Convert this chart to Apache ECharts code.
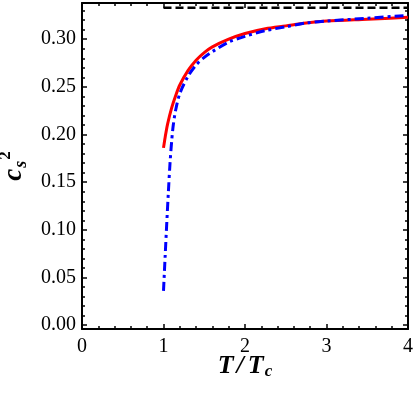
<!DOCTYPE html>
<html>
<head>
<meta charset="utf-8">
<script src="https://cdn.jsdelivr.net/npm/echarts@6/dist/echarts.min.js"></script>
<style>
  html, body { margin: 0; padding: 0; background: #fff; }
  #main { width: 415px; height: 395px; }
</style>
</head>
<body>
<div id="main"></div>
<script>
// values
var redT = [1.0, 1.02, 1.05, 1.1, 1.15, 1.2, 1.3, 1.4, 1.5, 1.6, 1.8, 2.0, 2.25, 2.5, 2.75, 3.0, 3.5, 4.0];
var redCs2 = [0.186, 0.197, 0.211, 0.228, 0.241, 0.252, 0.267, 0.278, 0.286, 0.292, 0.300, 0.306, 0.311, 0.314, 0.317, 0.319, 0.321, 0.323];
var blueT = [1.0, 1.02, 1.04, 1.06, 1.08, 1.1, 1.12, 1.15, 1.2, 1.3, 1.4, 1.5, 1.6, 1.8, 2.0, 2.25, 2.5, 2.75, 3.0, 3.5, 4.0];
var blueCs2 = [0.036, 0.072, 0.107, 0.140, 0.170, 0.193, 0.210, 0.226, 0.243, 0.261, 0.273, 0.281, 0.287, 0.297, 0.303, 0.309, 0.313, 0.317, 0.319, 0.322, 0.325];
var limitT = [1, 4];
var limitCs2 = [0.333, 0.333];

function pairs(xs, ys) {
    return xs.map(function (x, i) { return [x, ys[i]]; });
}

var serif = 'Liberation Serif';
var frameLine = { show: true, onZero: false, lineStyle: { color: '#000', width: 2 } };
var majorTick = { inside: true, length: 5, lineStyle: { color: '#000', width: 1.5 } };
var minorTick = { show: true, splitNumber: 5, length: 3, lineStyle: { color: '#000', width: 1.5 } };
var nameFont = { fontFamily: serif, fontWeight: 'bold', fontStyle: 'italic', color: '#000' };

var myChart = echarts.init(document.getElementById('main'));
var option = {
    animation: false,
    backgroundColor: '#fff',
    grid: { left: 82, right: 7, top: 3, bottom: 66, outerBoundsMode: 'none', containLabel: false },
    xAxis: [{
        type: 'value',
        min: 0, max: 4, interval: 1,
        position: 'bottom',
        axisLine: frameLine,
        axisTick: majorTick,
        minorTick: minorTick,
        splitLine: { show: false },
        axisLabel: { color: '#000', fontFamily: serif, fontSize: 20, margin: 8 },
        name: '{t|T}{sl|/}{t|T}{c|c}',
        nameLocation: 'middle',
        nameGap: 24,
        nameMoveOverlap: false,
        nameTextStyle: {
            rich: {
                t: Object.assign({ fontSize: 26 }, nameFont),
                sl: Object.assign({ fontSize: 26, padding: [0, 4, 0, 3] }, nameFont),
                c: Object.assign({ fontSize: 17, padding: [10, 0, 0, 1] }, nameFont)
            }
        }
    }, {
        type: 'value',
        min: 0, max: 4, interval: 1,
        position: 'top',
        axisLine: frameLine,
        axisTick: majorTick,
        minorTick: minorTick,
        splitLine: { show: false },
        axisLabel: { show: false }
    }],
    yAxis: [{
        type: 'value',
        min: -0.004, max: 0.338,
        splitNumber: 7, minInterval: 0.05, maxInterval: 0.05,
        position: 'left',
        axisLine: frameLine,
        axisTick: majorTick,
        minorTick: minorTick,
        splitLine: { show: false },
        axisLabel: {
            color: '#000', fontFamily: serif, fontSize: 20, margin: 6,
            showMinLabel: false, showMaxLabel: false,
            formatter: function (v) { return v.toFixed(2); }
        },
        name: '{c|c}{s|s}{p|2}',
        nameLocation: 'middle',
        nameGap: 50,
        nameRotate: 90,
        nameMoveOverlap: false,
        nameTextStyle: {
            rich: {
                c: Object.assign({ fontSize: 27 }, nameFont),
                s: Object.assign({ fontSize: 18, padding: [14, 0, 0, 1] }, nameFont),
                p: { fontFamily: serif, fontSize: 17, fontWeight: 'bold', color: '#000', padding: [0, 0, 18, 1] }
            }
        }
    }, {
        type: 'value',
        min: -0.004, max: 0.338,
        splitNumber: 7, minInterval: 0.05, maxInterval: 0.05,
        position: 'right',
        axisLine: frameLine,
        axisTick: majorTick,
        minorTick: minorTick,
        splitLine: { show: false },
        axisLabel: { show: false }
    }],
    series: [{
        name: 'limit',
        type: 'line',
        showSymbol: false,
        data: pairs(limitT, limitCs2),
        lineStyle: { color: '#000', width: 2.5, type: [8, 4] }
    }, {
        name: 'red',
        type: 'line',
        showSymbol: false,
        smooth: 0.3,
        data: pairs(redT, redCs2),
        lineStyle: { color: '#ff0000', width: 3 }
    }, {
        name: 'blue',
        type: 'line',
        showSymbol: false,
        smooth: 0.3,
        data: pairs(blueT, blueCs2),
        lineStyle: { color: '#0000ff', width: 3, type: [9, 4, 3, 4] }
    }]
};
myChart.setOption(option);
</script>
</body>
</html>
